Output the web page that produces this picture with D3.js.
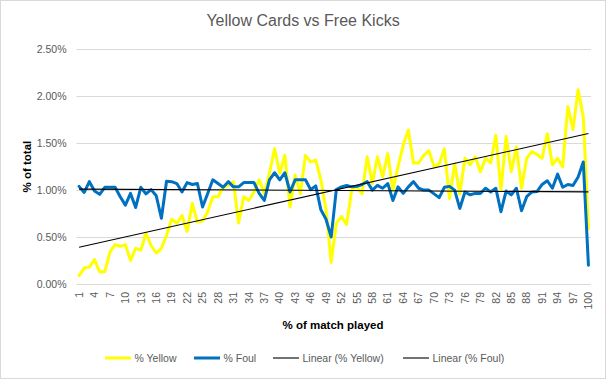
<!DOCTYPE html>
<html>
<head>
<meta charset="utf-8">
<script src="https://cdn.jsdelivr.net/npm/d3@7"></script>
<style>
  html, body { margin: 0; padding: 0; background: #fff; }
  svg { display: block; font-family: "Liberation Sans", Arial, sans-serif; }
</style>
</head>
<body>
<svg id="chart" width="606" height="379"></svg>
<script>
// ---- data (values in %) ----
const categories = d3.range(1, 101);
const yellowPct = [
  0.09, 0.17, 0.18, 0.26, 0.13, 0.13, 0.34, 0.42, 0.40, 0.42,
  0.25, 0.38, 0.36, 0.54, 0.41, 0.33, 0.38, 0.52, 0.69, 0.645,
  0.73, 0.56, 0.86, 0.66, 0.67, 0.77, 0.93, 0.93, 1.03, 1.05,
  1.09, 0.65, 0.93, 0.89, 0.98, 1.11, 0.96, 1.18, 1.44, 1.18,
  1.37, 0.82, 1.16, 0.96, 1.37, 1.30, 1.32, 1.11, 0.79, 0.23,
  0.645, 0.72, 0.635, 1.00, 1.035, 0.96, 1.355, 1.07, 1.355, 1.14,
  1.39, 1.00, 1.25, 1.48, 1.64, 1.29, 1.29, 1.37, 1.42, 1.25,
  1.28, 1.44, 0.91, 1.28, 0.96, 1.34, 1.27, 1.355, 1.195, 1.34,
  1.29, 1.585, 1.00, 1.57, 1.195, 1.46, 1.02, 1.34, 1.41, 1.38,
  1.34, 1.60, 1.27, 1.34, 1.25, 1.89, 1.645, 2.07, 1.78, 0.59
];
const foulPct = [
  1.04, 0.975, 1.09, 0.99, 0.955, 1.03, 1.03, 1.03, 0.93, 0.84,
  0.965, 0.815, 1.03, 0.96, 1.005, 0.94, 0.70, 1.095, 1.09, 1.07,
  0.98, 1.08, 1.06, 1.07, 0.82, 0.965, 1.11, 1.07, 1.03, 1.09,
  1.035, 1.035, 1.08, 1.08, 1.08, 0.965, 0.89, 1.11, 1.185, 1.11,
  1.185, 0.98, 1.11, 1.11, 1.11, 1.005, 1.045, 0.79, 0.69, 0.50,
  1.005, 1.035, 1.05, 1.035, 1.04, 1.06, 1.09, 1.00, 1.05, 1.02,
  1.07, 0.89, 1.035, 0.965, 1.035, 1.09, 1.02, 1.00, 1.00, 0.96,
  0.92, 1.03, 1.04, 1.00, 0.805, 0.98, 0.95, 0.965, 0.965, 1.02,
  0.98, 1.02, 0.77, 0.99, 0.95, 1.02, 0.78, 0.93, 0.98, 0.985,
  1.06, 1.10, 1.02, 1.17, 1.03, 1.06, 1.05, 1.14, 1.30, 0.20
];
const yTicks = [0, 0.005, 0.01, 0.015, 0.02, 0.025];
const xTickLabels = categories.filter((d, i) => i % 3 === 0);
const seriesNames = ["% Yellow", "% Foul"];
const trendNames = ["Linear (% Yellow)", "Linear (% Foul)"];
const seriesColors = ["#FFFF00", "#0070C0"];

// ---- layout ----
const svg = d3.select("#chart");
const W = 606, H = 379;
const plot = { left: 76.5, right: 591, top: 49.3, bottom: 284 };
const textGray = "#595959";

svg.append("rect").attr("x", 0.5).attr("y", 0.5).attr("width", W - 1).attr("height", H - 1)
  .attr("fill", "#fff").attr("stroke", "#d9d9d9");

const x = d3.scaleBand().domain(categories).range([plot.left, plot.right]).padding(0);
const xc = d => x(d) + x.bandwidth() / 2;
const y = d3.scaleLinear().domain([0, 0.025]).range([plot.bottom, plot.top]);

// gridlines
svg.append("g").selectAll("line").data(yTicks).join("line")
  .attr("x1", plot.left).attr("x2", plot.right)
  .attr("y1", d => Math.round(y(d)) + 0.5).attr("y2", d => Math.round(y(d)) + 0.5)
  .attr("stroke", "#d9d9d9").attr("stroke-width", 1);

// y axis labels
const yAxis = d3.axisLeft(y).tickValues(yTicks).tickFormat(d3.format(".2%")).tickSize(0).tickPadding(0);
const gy = svg.append("g").attr("transform", `translate(${plot.left - 10},0)`).call(yAxis);
gy.select(".domain").remove();
gy.selectAll("text").attr("fill", textGray).style("font-size", "10.5px")
  .style("font-family", "'Liberation Sans', Arial, sans-serif");

// x axis labels
const xAxis = d3.axisBottom(x).tickValues(xTickLabels).tickSize(0).tickPadding(0);
const gx = svg.append("g").attr("transform", `translate(0,${plot.bottom})`).call(xAxis);
gx.select(".domain").remove();
gx.selectAll("text")
  .attr("fill", textGray).style("font-size", "10.5px")
  .style("font-family", "'Liberation Sans', Arial, sans-serif")
  .attr("text-anchor", "end")
  .attr("dy", "0.35em")
  .attr("transform", "translate(0,8) rotate(-90)")
  .attr("x", 0).attr("y", 0);

// series
const seriesData = [yellowPct, foulPct].map(arr => arr.map((v, i) => ({ c: categories[i], v: v / 100 })));
const line = d3.line().x(d => xc(d.c)).y(d => y(d.v));
seriesData.forEach((data, k) => {
  svg.append("path").datum(data)
    .attr("fill", "none").attr("stroke", seriesColors[k]).attr("stroke-width", 3)
    .attr("stroke-linejoin", "round").attr("stroke-linecap", "round")
    .attr("d", line);
});

// linear trendlines (least squares)
function linReg(data) {
  const n = data.length;
  const mx = d3.mean(data, d => d.c), my = d3.mean(data, d => d.v);
  let sxy = 0, sxx = 0;
  data.forEach(d => { sxy += (d.c - mx) * (d.v - my); sxx += (d.c - mx) ** 2; });
  const b = sxy / sxx, a = my - b * mx;
  return c => a + b * c;
}
seriesData.forEach(data => {
  const f = linReg(data);
  const ends = [categories[0], categories[categories.length - 1]].map(c => ({ c, v: f(c) }));
  svg.append("path").datum(ends)
    .attr("fill", "none").attr("stroke", "#000").attr("stroke-width", 1.1)
    .attr("d", line);
});

// title
svg.append("text").attr("x", 303).attr("y", 26).attr("text-anchor", "middle")
  .attr("fill", textGray).style("font-size", "16px").text("Yellow Cards vs Free Kicks");

// axis titles
svg.append("text").attr("transform", `translate(31,${(plot.top + plot.bottom) / 2}) rotate(-90)`)
  .attr("text-anchor", "middle").attr("fill", "#000").style("font-size", "11.5px").style("font-weight", "bold")
  .text("% of total");
svg.append("text").attr("x", 333).attr("y", 329).attr("text-anchor", "middle")
  .attr("fill", "#000").style("font-size", "11.5px").style("font-weight", "bold")
  .text("% of match played");

// legend
const legendItems = [
  { name: seriesNames[0], color: seriesColors[0], w: 3, x: 105 },
  { name: seriesNames[1], color: seriesColors[1], w: 3, x: 194 },
  { name: trendNames[0], color: "#000", w: 1.1, x: 273 },
  { name: trendNames[1], color: "#000", w: 1.1, x: 403 }
];
const lg = svg.append("g");
legendItems.forEach(it => {
  lg.append("line").attr("x1", it.x).attr("x2", it.x + 26).attr("y1", 358).attr("y2", 358)
    .attr("stroke", it.color).attr("stroke-width", it.w);
  lg.append("text").attr("x", it.x + 29.5).attr("y", 362).attr("fill", textGray)
    .style("font-size", "10.5px").text(it.name);
});
</script>
</body>
</html>
